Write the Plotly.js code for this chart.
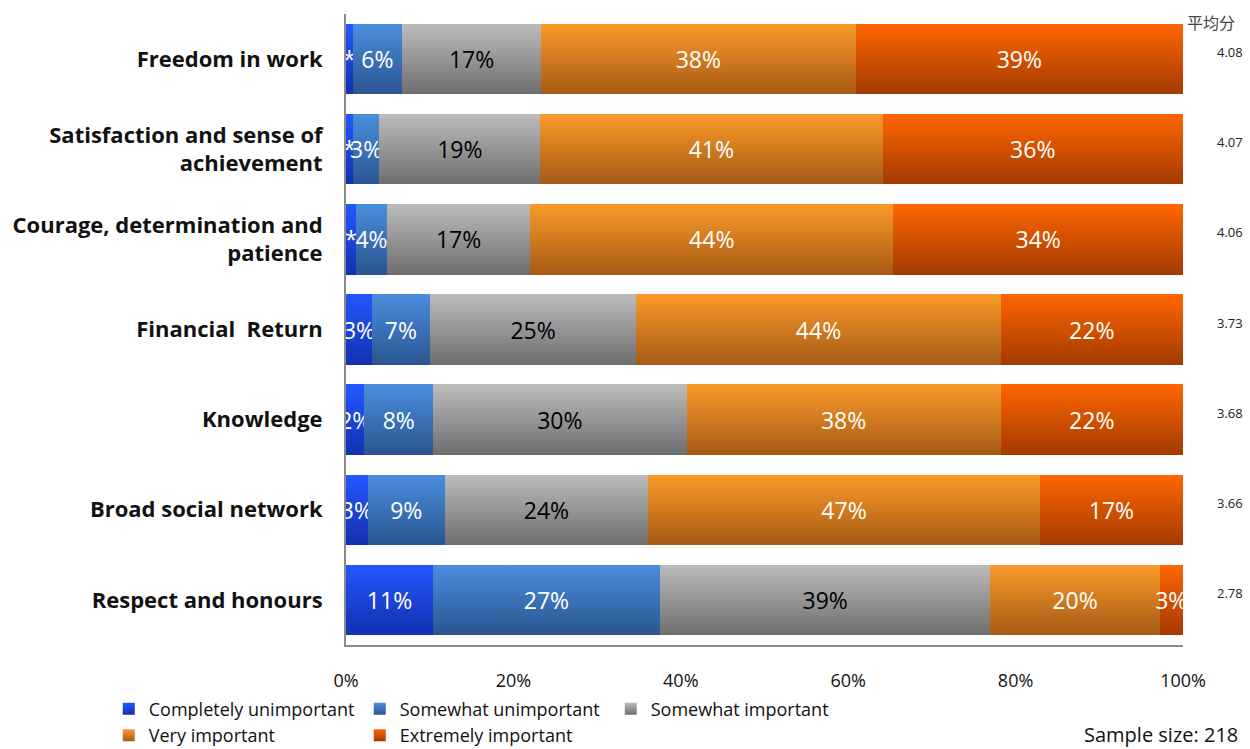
<!DOCTYPE html>
<html>
<head>
<meta charset="utf-8">
<script src="https://cdn.plot.ly/plotly-3.0.1.min.js"></script>
<style>html,body{margin:0;padding:0;background:#fff;}#chart{width:1250px;height:749px;}</style>
</head>
<body>
<div id="chart"></div>
<script>
var categories = [
  "Freedom in work",
  "Satisfaction and sense of<br>achievement",
  "Courage, determination and<br>patience",
  "Financial  Return",
  "Knowledge",
  "Broad social network",
  "Respect and honours"
];
var seriesNames = ["Completely unimportant", "Somewhat unimportant", "Somewhat important", "Very important", "Extremely important"];
var completelyUnimportant = [0.8, 0.8, 1.2, 3.1, 2.2, 2.6, 10.4];
var somewhatUnimportant   = [5.9, 3.2, 3.7, 6.9, 8.2, 9.2, 27.1];
var somewhatImportant     = [16.6, 19.2, 17.1, 24.7, 30.3, 24.3, 39.5];
var veryImportant         = [37.6, 40.9, 43.4, 43.5, 37.5, 46.8, 20.2];
var extremelyImportant    = [39.1, 35.9, 34.6, 21.8, 21.8, 17.1, 2.8];
var labelsCU = ["*", "*", "*", "3%", "2%", "3%", "11%"];
var labelsSU = ["6%", "3%", "4%", "7%", "8%", "9%", "27%"];
var labelsSI = ["17%", "19%", "17%", "25%", "30%", "24%", "39%"];
var labelsVI = ["38%", "41%", "44%", "44%", "38%", "47%", "20%"];
var labelsEI = ["39%", "36%", "34%", "22%", "22%", "17%", "3%"];
var meanScores = ["4.08", "4.07", "4.06", "3.73", "3.68", "3.66", "2.78"];
var xTickVals = [0, 20, 40, 60, 80, 100];
var xTickText = ["0%", "20%", "40%", "60%", "80%", "100%"];

var colors = ["#1c44dc", "#3a70b6", "#959595", "#d97d20", "#d85000"];
var gradTop = ["#2358ff", "#4a8ede", "#bcbcbc", "#fb9a2a", "#ff6600"];
var gradBottom = ["#1330b0", "#2a5590", "#6e6e6e", "#a65a14", "#a33a00"];
var textColors = ["#ffffff", "#ffffff", "#000000", "#ffffff", "#ffffff"];
var values = [completelyUnimportant, somewhatUnimportant, somewhatImportant, veryImportant, extremelyImportant];
var labels = [labelsCU, labelsSU, labelsSI, labelsVI, labelsEI];
var font = "Open Sans, Noto Sans, sans-serif";

var traces = seriesNames.map(function(name, i) {
  return {
    type: "bar",
    orientation: "h",
    name: name,
    y: categories,
    x: values[i],
    text: labels[i],
    textposition: "inside",
    insidetextanchor: "middle",
    textangle: 0,
    constraintext: "none",
    cliponaxis: false,
    insidetextfont: {family: font, size: 23, color: textColors[i]},
    marker: {color: colors[i], line: {width: 0}},
    hoverinfo: "skip"
  };
});

var annotations = categories.map(function(c, i) {
  return {
    xref: "paper", yref: "y", x: 1.056, y: c,
    text: meanScores[i], showarrow: false,
    xanchor: "center", yanchor: "bottom", yshift: -4,
    font: {family: font, size: 13, color: "#222"}
  };
});
annotations.push({
  xref: "paper", yref: "paper", x: 1.002, y: 0.987,
  text: "平均分", showarrow: false, xanchor: "left", yanchor: "middle",
  font: {family: "Noto Sans CJK SC, sans-serif", size: 16, color: "#444"}
});
annotations.push({
  xref: "paper", yref: "paper", x: 1.068, y: -0.1665,
  text: "Sample size: 218", showarrow: false, xanchor: "right", yanchor: "bottom",
  font: {family: font, size: 20, color: "#111"}
});

var layout = {
  width: 1250, height: 749,
  margin: {l: 346, r: 67, t: 14, b: 104, pad: 0},
  paper_bgcolor: "#ffffff", plot_bgcolor: "#ffffff",
  barmode: "stack",
  bargap: 0.22,
  showlegend: true,
  uniformtext: {mode: "show", minsize: 23},
  xaxis: {
    range: [0, 100], fixedrange: true,
    tickvals: xTickVals, ticktext: xTickText,
    showgrid: false, zeroline: false,
    showline: true, linecolor: "#8a8a8a", linewidth: 2,
    ticks: "", ticklabelstandoff: 18,
    tickfont: {family: font, size: 18, color: "#111"}
  },
  yaxis: {
    type: "category", autorange: "reversed", fixedrange: true,
    showgrid: false, zeroline: false,
    showline: true, linecolor: "#8a8a8a", linewidth: 2,
    ticks: "", ticklabelstandoff: 17,
    tickfont: {family: font, size: 22, color: "#111", weight: "bold"}
  },
  legend: {
    orientation: "h", xref: "container", yref: "container",
    x: 0.087, y: 0.078, xanchor: "left", yanchor: "top",
    entrywidth: 206, traceorder: "normal",
    font: {family: font, size: 18, color: "#111"},
    itemclick: false, itemdoubleclick: false
  },
  annotations: annotations
};

function applyGradients(gd) {
  var svg = gd.querySelector("svg.main-svg");
  if (!svg) return;
  var ns = "http://www.w3.org/2000/svg";
  var defs = svg.querySelector("defs");
  if (!defs) { defs = document.createElementNS(ns, "defs"); svg.insertBefore(defs, svg.firstChild); }
  for (var i = 0; i < colors.length; i++) {
    var lg = document.createElementNS(ns, "linearGradient");
    lg.setAttribute("id", "barGrad" + i);
    lg.setAttribute("x1", "0"); lg.setAttribute("y1", "0");
    lg.setAttribute("x2", "0"); lg.setAttribute("y2", "1");
    var s1 = document.createElementNS(ns, "stop");
    s1.setAttribute("offset", "0"); s1.setAttribute("stop-color", gradTop[i]);
    var s2 = document.createElementNS(ns, "stop");
    s2.setAttribute("offset", "1"); s2.setAttribute("stop-color", gradBottom[i]);
    lg.appendChild(s1); lg.appendChild(s2);
    defs.appendChild(lg);
  }
  var traceGroups = gd.querySelectorAll(".barlayer .trace");
  traceGroups.forEach(function(g, i) {
    g.querySelectorAll(".point path").forEach(function(p) {
      p.style.fill = "url(#barGrad" + i + ")";
    });
  });
  var legendItems = gd.querySelectorAll(".legend .traces");
  legendItems.forEach(function(g, i) {
    g.querySelectorAll(".legendpoints path").forEach(function(p) {
      p.style.fill = "url(#barGrad" + i + ")";
    });
  });
}

Plotly.newPlot("chart", traces, layout, {displayModeBar: false, staticPlot: true}).then(applyGradients);
</script>
</body>
</html>
